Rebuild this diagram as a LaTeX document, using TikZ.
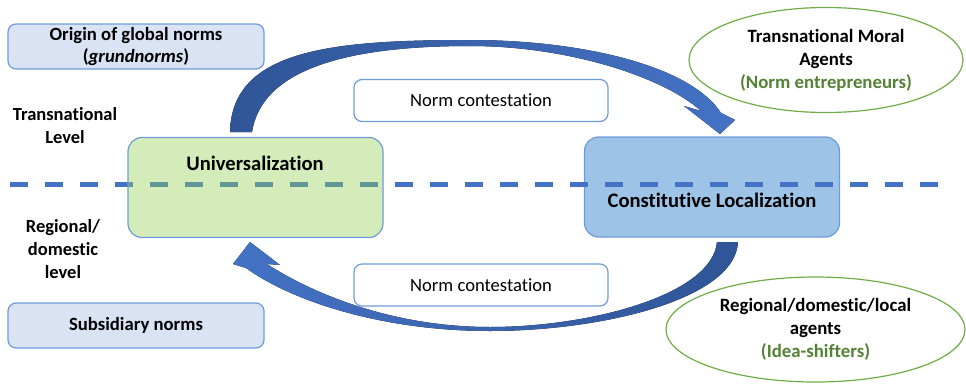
\documentclass[tikz,border=0pt]{standalone}
\usepackage{fontspec}
\setmainfont{Carlito}[Ligatures=NoCommon]
\usetikzlibrary{shapes.geometric}
\definecolor{boxfill}{HTML}{DAE3F3}
\definecolor{boxline}{HTML}{6F9BDC}
\definecolor{greenfill}{HTML}{92D050}
\definecolor{locfill}{HTML}{9DC3E6}
\definecolor{arrowblue}{HTML}{4472C4}
\definecolor{arrowdark}{HTML}{2F5597}
\definecolor{agentgreen}{HTML}{70AD47}
\definecolor{agenttext}{HTML}{548235}
\tikzset{
  normbox/.style={draw=boxline, line width=1.2pt, fill=boxfill, rounded corners=8pt,
    minimum width=256pt, minimum height=45pt, inner sep=0pt, align=center,
    font=\bfseries\fontsize{18.7}{22}\selectfont},
  levellabel/.style={align=center, inner sep=0pt, font=\bfseries\fontsize{18.5}{23}\selectfont},
  stagebox/.style={draw=boxline, line width=1.2pt, rounded corners=14pt,
    minimum width=255pt, minimum height=100pt, inner sep=0pt},
  stagetext/.style={inner sep=0pt, font=\bfseries\fontsize{20.6}{24}\selectfont},
  contestbox/.style={draw=boxline, fill=white, line width=1.2pt, rounded corners=8pt,
    minimum width=254pt, minimum height=42pt, inner sep=0pt, font=\fontsize{18.6}{22}\selectfont},
  agent/.style={draw=agentgreen, line width=1.2pt, ellipse, inner sep=0pt, align=center,
    font=\bfseries\fontsize{18.8}{23}\selectfont},
  levelline/.style={draw=arrowblue, line width=5pt, dash pattern=on 18pt off 17pt},
}
\begin{document}
\begin{tikzpicture}[x=1pt,y=-1pt]
\useasboundingbox (0,0) rectangle (966,383);
% boxes on the left
\node[normbox] (origin) at (136,46.5) {Origin of global norms\\(\textit{grundnorms})};
\node[normbox] (subsid) at (136,325.5) {Subsidiary norms};
\node[levellabel] (trans) at (65,126) {Transnational\\Level};
\node[levellabel] (regional) at (63,249) {Regional/\\domestic\\level};
% constitutive localization box (under the level line)
\node[stagebox, fill=locfill] (loc) at (712,187) {};
% level line
\coordinate (lineL) at (10,184);
\coordinate (lineR) at (940,184);
\draw[levelline] (lineL) -- (lineR);
% universalization box (semi-transparent over the line)
\node[stagebox, fill=greenfill, fill opacity=0.4] (univ) at (255.5,187.5) {};
\node[stagetext] (univtxt) at (255,163) {Universalization};
\node[stagetext] (loctxt) at (712,200) {Constitutive Localization};
% contestation boxes
\node[contestbox] (contTop) at (481,100.5) {Norm contestation};
\node[contestbox] (contBot) at (481,285) {Norm contestation};
% agents
\node[agent, minimum width=274pt, minimum height=105pt] (tma) at (826,60)
  {Transnational Moral\\Agents\\\textcolor{agenttext}{(Norm entrepreneurs)}};
\node[agent, minimum width=299pt, minimum height=105pt] (rda) at (815.5,329.5)
  {Regional/domestic/local\\agents\\\textcolor{agenttext}{(Idea-shifters)}};
% curved arrows
\fill[left color=arrowdark, right color=arrowblue]
  (230,132) .. controls (232,50) and (330,40) .. (470,40)
  .. controls (580,40) and (690,65) .. (721,113)
  -- (735,120) -- (720,134) -- (684,106) -- (701,111)
  .. controls (665,78) and (570,46) .. (470,46)
  .. controls (350,46) and (262,68) .. (252,132) -- cycle;
\fill[left color=arrowblue, right color=arrowdark]
  (738,242) .. controls (735,300) and (600,331) .. (490,331)
  .. controls (380,331) and (290,300) .. (246,268)
  -- (233,264) -- (250,242) -- (280,265) -- (267,264)
  .. controls (310,292) and (390,327) .. (490,327)
  .. controls (590,327) and (712,295) .. (717,242) -- cycle;
\end{tikzpicture}
\end{document}
